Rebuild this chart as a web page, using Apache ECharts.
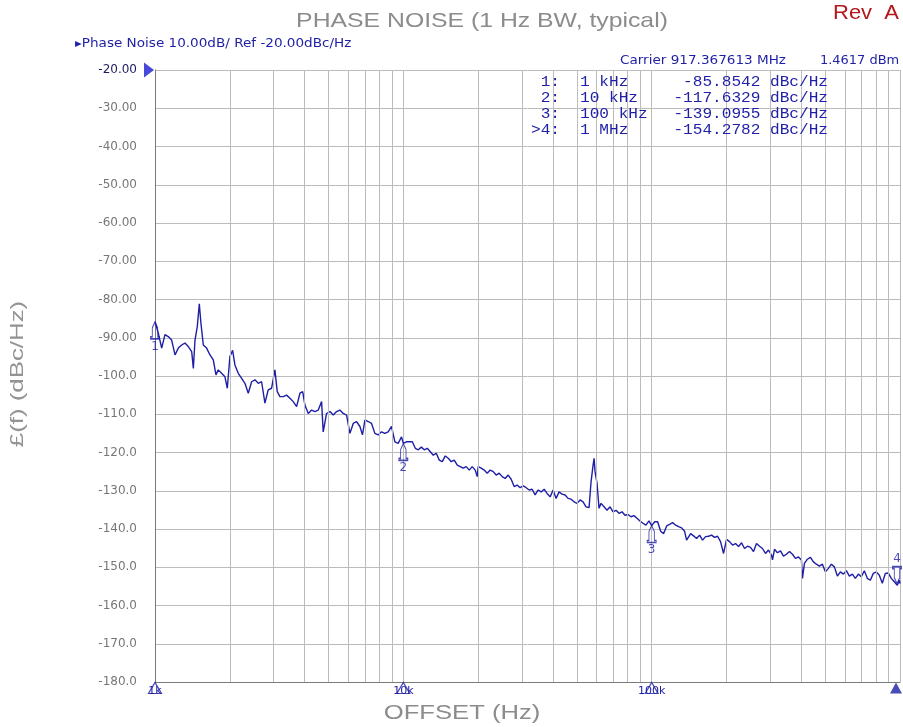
<!DOCTYPE html>
<html><head><meta charset="utf-8">
<script src="https://cdn.jsdelivr.net/npm/echarts@6/dist/echarts.min.js"></script>
<style>html,body{margin:0;padding:0;background:#fff}#c{width:903px;height:727px}</style>
</head><body><div id="c"></div>
<script>
// ---- data ----
const offsetHz = [
  1000,1031,1064,1097,1131,1167,1204,1241,1280,1320,1362,1405,1427,1449,1480,1508,1531,1565,1614,1665,
  1717,1760,1798,1854,1913,1955,2003,2054,2098,2164,2233,2302,2375,2449,2526,2605,2687,2771,2858,2948,
  3040,3106,3185,3285,3388,3494,3603,3717,3834,3933,4015,4141,4272,4405,4544,4686,4757,4908,5063,5222,
  5385,5554,5728,5908,6094,6285,6482,6686,6847,7002,7221,7447,7682,7919,8170,8428,8690,8963,9245,9533,9831,
  10000,10282,10571,10869,11175,11490,11814,12146,12488,12840,13201,13573,13955,14348,14752,15167,15595,16034,16485,16950,
  17427,17918,18422,18941,19475,19840,20023,20587,21167,21763,22376,23007,23655,24321,25006,25710,26434,27179,27944,28731,
  29540,30372,31227,32107,33011,33941,34897,35879,36890,37929,38997,40095,41225,42386,43580,44807,46069,47367,48701,50072,
  51483,52933,54424,55957,57020,58090,58630,59153,60270,61390,62532,64294,66105,67967,69881,71849,73873,75954,78093,80293,
  82554,84880,87270,89728,92256,94854,97526,
  100000,102820,105710,108690,111750,114900,118140,121460,124880,128400,132010,135730,138240,143480,147520,151670,155950,160340,164850,169500,
  174270,179180,184220,189410,194750,200230,205870,211670,217630,223760,230070,236550,243210,250060,257100,264340,271790,279440,287310,295400,
  303720,306600,312270,321070,330110,339410,348970,358790,368900,379290,389970,400950,404700,412250,423860,435800,448070,460690,473670,487010,
  500720,514830,529330,544240,559570,575330,591530,608190,625320,642940,661050,679670,698810,718490,738730,759540,780930,802930,825540,848800,
  872700,897280,922560,948540,975260,993800,1000000
];
const noiseDbc = [
  -85.8,-88.8,-92.7,-89.2,-89.7,-90.6,-94.5,-92.7,-91.9,-91.4,-92.3,-93.6,-98.0,-90.6,-87.1,-81.1,-86.2,-91.9,-92.7,-94.5,
  -95.8,-99.7,-98.4,-99.3,-100.2,-103.2,-94.9,-93.3,-97.1,-99.3,-100.6,-101.9,-104.5,-101.5,-101.0,-101.9,-101.5,-107.1,-103.6,-103.2,
  -98.4,-104.1,-105.4,-105.4,-105.0,-105.8,-106.7,-108.0,-104.5,-104.1,-107.6,-109.8,-108.9,-109.3,-108.9,-106.7,-114.6,-109.8,-109.3,-110.2,
  -109.3,-108.9,-109.8,-110.2,-115.0,-112.4,-111.9,-113.2,-115.4,-111.5,-111.9,-112.4,-115.0,-115.4,-114.6,-115.0,-114.6,-113.2,-117.2,-117.6,-115.9,
  -117.6,-117.2,-117.2,-117.2,-118.9,-119.3,-118.6,-119.3,-118.9,-119.8,-120.7,-120.2,-122.0,-122.4,-120.9,-121.5,-122.4,-122.0,-123.3,-123.7,
  -124.1,-123.7,-124.6,-123.7,-124.6,-126.3,-123.7,-124.1,-124.6,-125.4,-124.6,-125.0,-125.9,-125.4,-126.3,-126.8,-125.9,-127.0,-128.9,-128.5,
  -129.2,-128.7,-129.2,-129.8,-129.6,-131.1,-129.8,-130.3,-129.6,-130.7,-131.6,-129.8,-132.0,-130.3,-130.9,-131.1,-132.0,-132.2,-132.9,-133.3,
  -132.4,-132.9,-134.2,-134.4,-127.6,-123.3,-121.5,-125.0,-128.1,-134.6,-133.3,-134.2,-135.1,-134.2,-135.5,-135.1,-135.9,-135.5,-136.4,-136.2,
  -136.8,-136.5,-137.2,-137.9,-138.5,-139.0,-137.9,
  -139.1,-138.1,-138.1,-140.6,-141.2,-139.2,-138.8,-138.3,-139.0,-139.4,-139.7,-140.6,-142.9,-141.2,-141.8,-142.5,-141.6,-142.9,-142.0,-141.9,
  -141.6,-142.2,-141.9,-143.3,-146.4,-142.7,-143.3,-144.2,-143.8,-144.6,-143.6,-145.1,-144.5,-144.8,-145.9,-143.8,-144.5,-145.1,-146.4,-145.5,
  -146.8,-148.1,-145.3,-146.2,-145.7,-147.1,-146.6,-145.9,-146.6,-147.7,-147.3,-148.1,-152.9,-149.0,-147.9,-147.4,-148.6,-149.2,-149.7,-149.2,
  -151.2,-150.3,-149.2,-149.9,-152.3,-151.2,-151.8,-150.9,-152.3,-151.8,-152.9,-151.8,-152.5,-150.9,-152.9,-153.4,-151.6,-151.2,-152.1,-154.2,
  -151.6,-151.5,-152.9,-153.8,-154.7,-153.4,-154.3
];
const markerNames = ['1:', '2:', '3:', '>4:'];
const markerFreqText = ['1 kHz', '10 kHz', '100 kHz', '1 MHz'];
const markerHz = [1000, 10000, 100000, 1000000];
const markerDbc = [-85.8542, -117.6329, -139.0955, -154.2782];
const decadeHz = [1000, 10000, 100000, 1000000];
const decadeText = ['1k', '10k', '100k', ''];
const gridMultipliers = [2, 3, 4, 5, 6, 7, 8, 9];
const yMin = -180, yMax = -20, yStep = 10;
const carrierText = 'Carrier 917.367613 MHz';
const carrierPower = '1.4617 dBm';
const headerText = '\u25B8Phase Noise 10.00dB/ Ref -20.00dBc/Hz';

// ---- chart ----
const NAVY = '#1e1ea6';
const GRID = '#bcbcbc';
const LABEL_GRAY = '#777777';
const tracePts = offsetHz.map((f, i) => [f, noiseDbc[i]]);
const minorLines = [];
decadeHz.slice(0, 3).forEach(d => gridMultipliers.forEach(m => minorLines.push({ xAxis: d * m })));
function txt(x, y, text, opt, sx) {
  return {
    type: 'text', x: x, y: y, scaleX: sx || 1.13, silent: true, z: 10,
    style: Object.assign({
      text: text, fill: NAVY, font: '12px "DejaVu Sans"',
      align: 'left', verticalAlign: 'middle', textAlign: 'left', textVerticalAlign: 'middle'
    }, opt || {})
  };
}
const graphics = [
  txt(482, 21, 'PHASE NOISE (1 Hz BW, typical)', { font: '21px "Liberation Sans"', fill: '#8c8c8c', align: 'center', textAlign: 'center' }, 1.18),
  txt(833, 13, 'Rev  A', { font: '20px "Liberation Sans"', fill: '#b3161b' }, 1.1),
  txt(462, 713, 'OFFSET (Hz)', { font: '21px "Liberation Sans"', fill: '#8c8c8c', align: 'center', textAlign: 'center' }, 1.22),
  Object.assign(txt(18, 374, '\u00A3(f) (dBc/Hz)', { font: '19px "Liberation Sans"', fill: '#939393', align: 'center', textAlign: 'center' }, 1.36), { rotation: Math.PI / 2 }),
  txt(75, 44, headerText, { font: '12px "DejaVu Sans"' }),
  txt(620, 61, carrierText, { font: '12px "DejaVu Sans"' }),
  txt(820, 61, carrierPower, { font: '12px "DejaVu Sans"' }, 1.08)
];
const rowY = [82, 98, 114, 130];
markerNames.forEach((n, i) => {
  const mono = '14px "Liberation Mono"';
  graphics.push(txt(560, rowY[i], n, { font: mono, align: 'right', textAlign: 'right' }, 1.15));
  graphics.push(txt(580, rowY[i], markerFreqText[i], { font: mono }, 1.15));
  graphics.push(txt(828, rowY[i], markerDbc[i].toFixed(4) + ' dBc/Hz', { font: mono, align: 'right', textAlign: 'right' }, 1.15));
});

const markerPath = 'path://M5,0 L8,6 L8,15 L10,15 L10,17 L0,17 L0,15 L2,15 L2,6 Z';

const option = {
  animation: false,
  backgroundColor: '#ffffff',
  grid: { left: 155, right: 2, top: 70, bottom: 45, containLabel: false },
  xAxis: {
    type: 'log', logBase: 10, min: 1000, max: 1000000,
    axisLine: { show: true, onZero: false, lineStyle: { color: '#7a7a7a', width: 1 } },
    axisTick: { show: false },
    splitLine: { show: true, lineStyle: { color: GRID, width: 1 } },
    axisLabel: {
      formatter: v => { const i = Math.round(Math.log10(v)) - 3; return decadeText[i] || ''; },
      color: NAVY, fontSize: 11, fontFamily: 'DejaVu Sans', margin: 4
    }
  },
  yAxis: {
    type: 'value', min: yMin, max: yMax, interval: yStep,
    axisLine: { show: true, onZero: false, lineStyle: { color: '#7a7a7a', width: 1 } },
    axisTick: { show: false },
    splitLine: { show: true, lineStyle: { color: GRID, width: 1 } },
    axisLabel: {
      formatter: v => {
        const s = v > -100 ? v.toFixed(2) : v.toFixed(1);
        return v === yMax ? '{r|' + s + '}' : s;
      },
      rich: { r: { color: '#1c1c5e', fontSize: 12, fontFamily: 'DejaVu Sans' } },
      color: LABEL_GRAY, fontSize: 12, fontFamily: 'DejaVu Sans', margin: 18
    }
  },
  graphic: graphics,
  series: [
    {
      type: 'line', data: [], z: 1, silent: true,
      markLine: {
        silent: true, symbol: ['none', 'none'], label: { show: false }, animation: false,
        lineStyle: { color: GRID, width: 1, type: 'solid' },
        emphasis: { disabled: true },
        data: minorLines
      }
    },
    {
      type: 'line', data: tracePts, z: 3, symbol: 'none', showSymbol: false, silent: true,
      lineStyle: { color: NAVY, width: 1.4 }
    },
    {
      type: 'scatter', z: 4, clip: false, silent: true,
      symbol: markerPath, symbolSize: [9, 17],
      itemStyle: { color: 'rgba(255,255,255,0)', borderColor: NAVY, borderWidth: 1.2 },
      label: { show: true, formatter: p => String(p.dataIndex + 1), color: NAVY, fontSize: 12, fontFamily: 'DejaVu Sans', distance: 1 },
      data: markerHz.map((f, i) => ({
        value: [f, markerDbc[i]],
        symbolRotate: i === 3 ? 180 : 0,
        symbolOffset: i === 3 ? [-3, -8.5] : [0, 8.5],
        label: { position: i === 3 ? 'top' : 'bottom' }
      }))
    },
    {
      type: 'scatter', z: 4, clip: false, silent: true,
      symbol: 'triangle', symbolSize: [13, 11], symbolOffset: [0, 6],
      itemStyle: { color: 'rgba(255,255,255,0)', borderColor: NAVY, borderWidth: 1.2 },
      data: decadeHz.slice(0, 3).map(f => [f, yMin])
    },
    {
      type: 'scatter', z: 4, clip: false, silent: true,
      symbol: 'triangle', symbolSize: [12, 11], symbolOffset: [-4, 6],
      itemStyle: { color: NAVY },
      data: [[decadeHz[3], yMin]]
    },
    {
      type: 'scatter', z: 4, clip: false, silent: true,
      symbol: 'triangle', symbolSize: [15, 10], symbolRotate: -90, symbolOffset: [-6, 0],
      itemStyle: { color: '#1a1ad0' },
      data: [[decadeHz[0], yMax]]
    }
  ]
};
const chart = echarts.init(document.getElementById('c'), null, { renderer: 'canvas' });
chart.setOption(option);
</script>
</body></html>
